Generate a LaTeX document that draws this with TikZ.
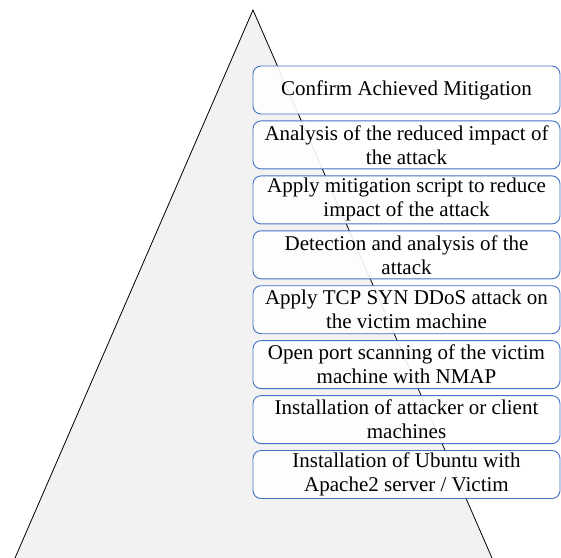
\documentclass[tikz,border=0pt]{standalone}
\usepackage{fontspec}
\setmainfont{Liberation Serif}
\definecolor{boxblue}{RGB}{68,114,196}
\definecolor{pyrfill}{RGB}{242,242,242}
\begin{document}
\begin{tikzpicture}[x=1pt,y=-1pt,
  stepbox/.style={draw=boxblue, line width=0.9pt, rounded corners=8pt, fill=white, fill opacity=0.9, text opacity=1,
    minimum width=307pt, minimum height=48pt, inner sep=0pt, align=center, font=\fontsize{21}{24}\selectfont},
  edge/.style={draw=black, line width=0.8pt}]
\useasboundingbox (0,0) rectangle (561,557);
\coordinate (apex) at (253,10);
\coordinate (bl) at (15,558);
\coordinate (br) at (492,558);
\fill[pyrfill] (apex) -- (bl) -- (br) -- cycle;
\draw[edge] (bl) -- (apex) -- (br);
\node[stepbox] (s8) at (406.5,90) {Confirm Achieved Mitigation};
\node[stepbox] (s7) at (406.5,144.9) {Analysis of the reduced impact of\\the attack};
\node[stepbox] (s6) at (406.5,199.9) {Apply mitigation script to reduce\\impact of the attack};
\node[stepbox] (s5) at (406.5,254.8) {Detection and analysis of the\\attack};
\node[stepbox] (s4) at (406.5,309.7) {Apply TCP SYN DDoS attack on\\the victim machine};
\node[stepbox] (s3) at (406.5,364.6) {Open port scanning of the victim\\machine with NMAP};
\node[stepbox] (s2) at (406.5,419.6) {Installation of attacker or client\\machines};
\node[stepbox] (s1) at (406.5,474.5) {Installation of Ubuntu with\\Apache2 server / Victim};
\end{tikzpicture}
\end{document}
